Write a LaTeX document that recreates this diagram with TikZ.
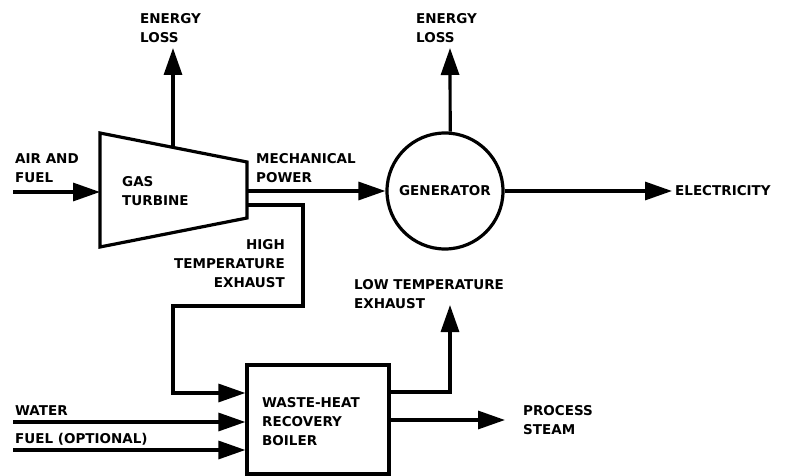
\documentclass[tikz,border=0pt]{standalone}
\usepackage{fontspec}
\setmainfont{DejaVu Sans}
\usetikzlibrary{arrows.meta,positioning}

\tikzset{
  pipe/.style={line width=3.2pt},
  flow/.style={pipe, -{Triangle[length=27pt,width=18pt]}},
  lbl/.style={font=\bfseries\fontsize{13.5}{19}\selectfont, inner sep=0pt, align=left},
}

\begin{document}
\begin{tikzpicture}[x=1pt,y=-1pt]
\useasboundingbox (0,0) rectangle (788,476);
% gas turbine
\coordinate (tTL) at (100,133);
\coordinate (tTR) at (247,162);
\coordinate (tBR) at (247,218);
\coordinate (tBL) at (100,247);
\draw[pipe, line join=miter] (tTL) -- (tTR) -- (tBR) -- (tBL) -- cycle;
\node[lbl, anchor=north west] (turb) at (122,176) {GAS\\TURBINE};
\coordinate (tTop) at (173,147.4);
\coordinate (tIn) at (100,192);
\coordinate (tPow) at (247,191);
\coordinate (tExh) at (247,205);
% generator and boiler
\node[draw, pipe, circle, minimum size=116pt, inner sep=0pt, lbl] (gen) at (445,191) {GENERATOR};
\node[draw, pipe, minimum width=142pt, minimum height=109pt, inner sep=0pt] (boiler) at (318,419.5) {};
\node[lbl, anchor=north west] (boilertext) at (262,397) {WASTE-HEAT\\RECOVERY\\BOILER};
% free ends
\coordinate (loss1) at (173,48);
\coordinate (loss2) at (450,48);
\coordinate (elec) at (672,191);
\coordinate (air) at (13,192);
\coordinate (water) at (13,422);
\coordinate (fuel) at (13,450);
\coordinate (steam) at (505,420);
\coordinate (lowexh) at (450,305);
% labels
\node[lbl, anchor=north west] (lossA) at (140,13) {ENERGY\\LOSS};
\node[lbl, anchor=north west] (lossB) at (416,13) {ENERGY\\LOSS};
\node[lbl, anchor=north west] (airlbl) at (15,153) {AIR AND\\FUEL};
\node[lbl, anchor=north west] (powlbl) at (256,153) {MECHANICAL\\POWER};
\node[lbl, anchor=west] (eleclbl) at (675,191) {ELECTRICITY};
\node[lbl, anchor=north east, align=right] (hilbl) at (285,239) {HIGH\\TEMPERATURE\\EXHAUST};
\node[lbl, anchor=north west] (lowlbl) at (354,279) {LOW TEMPERATURE\\EXHAUST};
\node[lbl, anchor=north west] (waterlbl) at (15,405) {WATER};
\node[lbl, anchor=north west] (fuellbl) at (15,433) {FUEL (OPTIONAL)};
\node[lbl, anchor=north west] (steamlbl) at (523,405) {PROCESS\\STEAM};
% connectors
\draw[flow] (tTop) -- (loss1);
\draw[flow] (gen.85) -- (loss2);
\draw[flow] (air) -- (tIn);
\draw[flow] (tPow) -- (gen.west);
\draw[flow] (gen.east) -- (elec);
\draw[flow, line join=miter] (tExh) -| (303,306) -| (173,393) -- (boiler.west |- 0,393);
\draw[flow] (water) -- (boiler.west |- water);
\draw[flow] (fuel) -- (boiler.west |- fuel);
\draw[flow, line join=miter] (boiler.east |- 0,392) -| (lowexh);
\draw[flow] (boiler.east |- steam) -- (steam);
\end{tikzpicture}
\end{document}
